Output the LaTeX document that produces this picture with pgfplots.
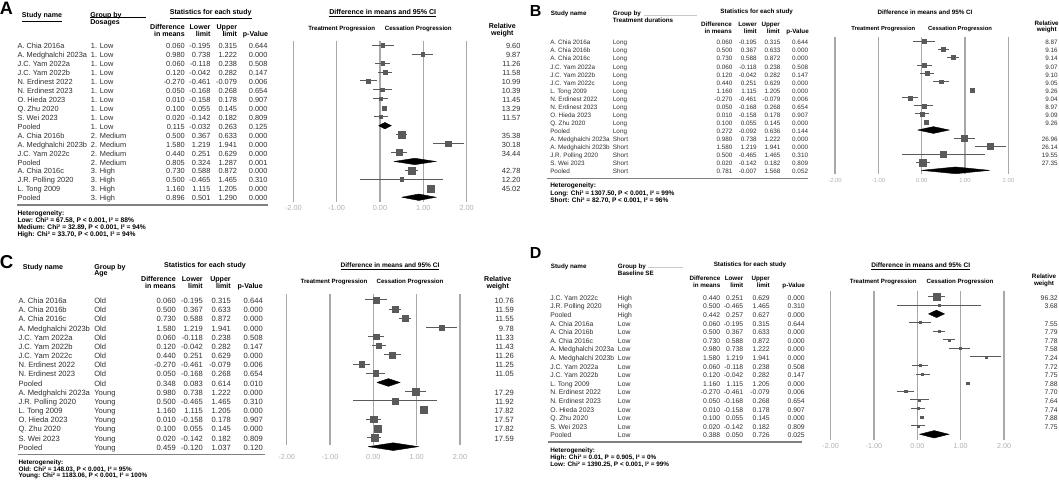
\documentclass[border=0pt]{standalone}
\usepackage{fontspec}
\setmainfont{Liberation Sans}
\usepackage{pgfplots}
\usepackage{pgfplotstable}
\pgfplotsset{compat=1.18}

\definecolor{gridgray}{HTML}{A8A8A8}
\definecolor{tickgray}{HTML}{B0B0B0}
\definecolor{markgray}{HTML}{5A5A5A}
\definecolor{txtgray}{HTML}{2E2E2E}
\definecolor{sepgray}{HTML}{808080}
\definecolor{lightline}{HTML}{C8C8C8}

\newcommand\fsz[1]{\fontsize{#1}{#1}\selectfont}
% one text column of a table: one node per row
\newcommand\tcol[6]{%
  \pgfplotstableforeachcolumnelement{#2}\of#1\as\cell{%
    \node[anchor=#4] at (#3,{#5+\pgfplotstablerow*#6}) {\cell};}}
% weight column: pooled rows (w=0) stay blank
\newcommand\wcol[4]{%
  \pgfplotstableforeachcolumnelement{w}\of#1\as\cell{%
    \ifdim\cell pt>0pt
      \node[anchor=mid east] at (#2,{#3+\pgfplotstablerow*#4}) {\cell};\fi}}

\pgfplotsset{
  fplot/.style={scale only axis, anchor=north west, width=130pt,
    xmin=-2, xmax=2, y dir=reverse,
    axis line style={draw=none}, major tick length=0pt, ytick=\empty,
    xtick={-2,-1,0,1,2}, xticklabels={-2.00,-1.00,0.00,1.00,2.00},
    xmajorgrids, grid style={draw=gridgray, line width=1pt},
    xticklabel style={text=tickgray, inner sep=0pt, anchor=north},
    clip=false},
  fstudy/.style={only marks, mark=square*, scatter,
    scatter/use mapped color={draw=markgray, fill=markgray},
    mark options={line width=0.2pt},
    visualization depends on={\thisrow{w}\as\wt},
    scatter/@pre marker code/.append style={/tikz/mark size={#1*sqrt(\wt)}},
    error bars/x dir=both, error bars/x explicit, error bars/error mark=none,
    error bars/error bar style={draw=markgray, line width=0.75pt}},
  fdia/.style={draw=black, fill=black, line width=0.3pt, mark=none},
}
% pooled rows have k=0: their x becomes unbounded and they are dropped
\pgfplotsset{/pgfplots/table/frow/.style={x expr=\thisrow{d}/\thisrow{k},
  y expr=\coordindex+1,
  x error plus expr=\thisrow{u}-\thisrow{d},
  x error minus expr=\thisrow{d}-\thisrow{l}}}

% A: dosages
\pgfplotstableread[col sep=comma]{
name,grp,d,l,u,p,w,k
A. Chia 2016a,1. Low,0.060,-0.195,0.315,0.644,9.60,1
A. Medghalchi 2023a,1. Low,0.980,0.738,1.222,0.000,9.87,1
J.C. Yam 2022a,1. Low,0.060,-0.118,0.238,0.508,11.26,1
J.C. Yam 2022b,1. Low,0.120,-0.042,0.282,0.147,11.58,1
N. Erdinest 2022,1. Low,-0.270,-0.461,-0.079,0.006,10.99,1
N. Erdinest 2023,1. Low,0.050,-0.168,0.268,0.654,10.39,1
O. Hieda 2023,1. Low,0.010,-0.158,0.178,0.907,11.45,1
Q. Zhu 2020,1. Low,0.100,0.055,0.145,0.000,13.29,1
S. Wei 2023,1. Low,0.020,-0.142,0.182,0.809,11.57,1
Pooled,1. Low,0.115,-0.032,0.263,0.125,0,0
A. Chia 2016b,2. Medium,0.500,0.367,0.633,0.000,35.38,1
A. Medghalchi 2023b,2. Medium,1.580,1.219,1.941,0.000,30.18,1
J.C. Yam 2022c,2. Medium,0.440,0.251,0.629,0.000,34.44,1
Pooled,2. Medium,0.805,0.324,1.287,0.001,0,0
A. Chia 2016c,3. High,0.730,0.588,0.872,0.000,42.78,1
J.R. Polling 2020,3. High,0.500,-0.465,1.465,0.310,12.20,1
L. Tong 2009,3. High,1.160,1.115,1.205,0.000,45.02,1
Pooled,3. High,0.896,0.501,1.290,0.000,0,0
}\tabA

% B: treatment durations
\pgfplotstableread[col sep=comma]{
name,grp,d,l,u,p,w,k
A. Chia 2016a,Long,0.060,-0.195,0.315,0.644,8.87,1
A. Chia 2016b,Long,0.500,0.367,0.633,0.000,9.16,1
A. Chia 2016c,Long,0.730,0.588,0.872,0.000,9.14,1
J.C. Yam 2022a,Long,0.060,-0.118,0.238,0.508,9.07,1
J.C. Yam 2022b,Long,0.120,-0.042,0.282,0.147,9.10,1
J.C. Yam 2022c,Long,0.440,0.251,0.629,0.000,9.05,1
L. Tong 2009,Long,1.160,1.115,1.205,0.000,9.26,1
N. Erdinest 2022,Long,-0.270,-0.461,-0.079,0.006,9.04,1
N. Erdinest 2023,Long,0.050,-0.168,0.268,0.654,8.97,1
O. Hieda 2023,Long,0.010,-0.158,0.178,0.907,9.09,1
Q. Zhu 2020,Long,0.100,0.055,0.145,0.000,9.26,1
Pooled,Long,0.272,-0.092,0.636,0.144,0,0
A. Medghalchi 2023a,Short,0.980,0.738,1.222,0.000,26.96,1
A. Medghalchi 2023b,Short,1.580,1.219,1.941,0.000,26.14,1
J.R. Polling 2020,Short,0.500,-0.465,1.465,0.310,19.55,1
S. Wei 2023,Short,0.020,-0.142,0.182,0.809,27.35,1
Pooled,Short,0.781,-0.007,1.568,0.052,0,0
}\tabB

% C: age
\pgfplotstableread[col sep=comma]{
name,grp,d,l,u,p,w,k
A. Chia 2016a,Old,0.060,-0.195,0.315,0.644,10.76,1
A. Chia 2016b,Old,0.500,0.367,0.633,0.000,11.59,1
A. Chia 2016c,Old,0.730,0.588,0.872,0.000,11.55,1
A. Medghalchi 2023b,Old,1.580,1.219,1.941,0.000,9.78,1
J.C. Yam 2022a,Old,0.060,-0.118,0.238,0.508,11.33,1
J.C. Yam 2022b,Old,0.120,-0.042,0.282,0.147,11.43,1
J.C. Yam 2022c,Old,0.440,0.251,0.629,0.000,11.26,1
N. Erdinest 2022,Old,-0.270,-0.461,-0.079,0.006,11.25,1
N. Erdinest 2023,Old,0.050,-0.168,0.268,0.654,11.05,1
Pooled,Old,0.348,0.083,0.614,0.010,0,0
A. Medghalchi 2023a,Young,0.980,0.738,1.222,0.000,17.29,1
J.R. Polling 2020,Young,0.500,-0.465,1.465,0.310,11.92,1
L. Tong 2009,Young,1.160,1.115,1.205,0.000,17.82,1
O. Hieda 2023,Young,0.010,-0.158,0.178,0.907,17.57,1
Q. Zhu 2020,Young,0.100,0.055,0.145,0.000,17.82,1
S. Wei 2023,Young,0.020,-0.142,0.182,0.809,17.59,1
Pooled,Young,0.459,-0.120,1.037,0.120,0,0
}\tabC

% D: baseline SE
\pgfplotstableread[col sep=comma]{
name,grp,d,l,u,p,w,k
J.C. Yam 2022c,High,0.440,0.251,0.629,0.000,96.32,1
J.R. Polling 2020,High,0.500,-0.465,1.465,0.310,3.68,1
Pooled,High,0.442,0.257,0.627,0.000,0,0
A. Chia 2016a,Low,0.060,-0.195,0.315,0.644,7.55,1
A. Chia 2016b,Low,0.500,0.367,0.633,0.000,7.79,1
A. Chia 2016c,Low,0.730,0.588,0.872,0.000,7.78,1
A. Medghalchi 2023a,Low,0.980,0.738,1.222,0.000,7.58,1
A. Medghalchi 2023b,Low,1.580,1.219,1.941,0.000,7.24,1
J.C. Yam 2022a,Low,0.060,-0.118,0.238,0.508,7.72,1
J.C. Yam 2022b,Low,0.120,-0.042,0.282,0.147,7.75,1
L. Tong 2009,Low,1.160,1.115,1.205,0.000,7.88,1
N. Erdinest 2022,Low,-0.270,-0.461,-0.079,0.006,7.70,1
N. Erdinest 2023,Low,0.050,-0.168,0.268,0.654,7.64,1
O. Hieda 2023,Low,0.010,-0.158,0.178,0.907,7.74,1
Q. Zhu 2020,Low,0.100,0.055,0.145,0.000,7.88,1
S. Wei 2023,Low,0.020,-0.142,0.182,0.809,7.75,1
Pooled,Low,0.388,0.050,0.726,0.025,0,0
}\tabD

\begin{document}
\begin{tikzpicture}
\path[use as bounding box] (0,0) rectangle (794.25pt,-360.75pt);

% all text in pixel coordinates of the 1059x481 picture
\begin{scope}[x=0.75pt,y=-0.75pt,every node/.style={inner sep=0pt}]

% ---------- A
\node[anchor=base west,font=\bfseries\fsz{13.5}] at (-0.5,15) {A};
\begin{scope}[font=\bfseries\fsz{5.3}]
\node[anchor=mid west] at (21.7,14) {\underline{Study name}};
\node[anchor=mid west] at (90,14) {Group by};
\node[anchor=mid west] at (90,20.7) {Dosages};
\node at (210.7,14) {\underline{Statistics for each study}};
\node[anchor=mid east] at (185,25.7) {Difference};
\node[anchor=mid east] at (185,33.3) {in means};
\node[anchor=mid east] at (210.7,25.7) {Lower};
\node[anchor=mid east] at (210.7,33.3) {limit};
\node[anchor=mid east] at (237.3,25.7) {Upper};
\node[anchor=mid east] at (237.3,33.3) {limit};
\node[anchor=mid east] at (268.3,33.3) {p-Value};
\node at (382.7,13.3) {\underline{Difference in means and 95\% CI}};
\node at (502.3,26) {Relative};
\node at (502.3,33.3) {weight};
\node[font=\bfseries\fsz{4.6}] at (341.7,29.3) {Treatment Progression};
\node[font=\bfseries\fsz{4.6}] at (418.3,29.3) {Cessation Progression};
\end{scope}
\draw[line width=0.5pt] (90,16.9) -- (145.7,16.9);
\begin{scope}[font=\fsz{5.55},text=txtgray]
\tcol\tabA{name}{17.3}{mid west}{45.3}{8.94}
\tcol\tabA{grp}{90.7}{mid west}{45.3}{8.94}
\tcol\tabA{d}{185}{mid east}{45.3}{8.94}
\tcol\tabA{l}{210.7}{mid east}{45.3}{8.94}
\tcol\tabA{u}{237.3}{mid east}{45.3}{8.94}
\tcol\tabA{p}{267.7}{mid east}{45.3}{8.94}
\wcol\tabA{520.7}{45.3}{8.94}
\end{scope}
\draw[draw=sepgray,line width=0.8pt] (17,205) -- (268,205);
\begin{scope}[font=\bfseries\fsz{5.0}]
\node[anchor=mid west] at (17.3,212.3) {Heterogeneity:};
\node[anchor=mid west] at (17.3,219.3) {Low: Chi² = 67.58, P < 0.001, I² = 88\%};
\node[anchor=mid west] at (17.3,226.3) {Medium: Chi² = 32.89, P < 0.001, I² = 94\%};
\node[anchor=mid west] at (17.3,233.3) {High: Chi² = 33.70, P < 0.001, I² = 94\%};
\end{scope}

% ---------- B
\node[anchor=base west,font=\bfseries\fsz{12}] at (529.5,16.7) {B};
\begin{scope}[font=\bfseries\fsz{4.7}]
\node[anchor=mid west] at (550.7,12.3) {Study name};
\node[anchor=mid west] at (612.7,12.3) {Group by};
\node[anchor=mid west] at (612.7,19) {Treatment durations};
\node at (756.7,12.3) {Statistics for each study};
\node[anchor=mid east] at (732,23.3) {Difference};
\node[anchor=mid east] at (732,30) {in means};
\node[anchor=mid east] at (757,23.3) {Lower};
\node[anchor=mid east] at (757,30) {limit};
\node[anchor=mid east] at (780,23.3) {Upper};
\node[anchor=mid east] at (780,30) {limit};
\node[anchor=mid east] at (809,30) {p-Value};
\node at (925,12.3) {Difference in means and 95\% CI};
\node at (1046.7,23.3) {Relative};
\node at (1046.7,30) {weight};
\node[font=\bfseries\fsz{4.4}] at (883.3,29.3) {Treatment Progression};
\node[font=\bfseries\fsz{4.4}] at (960,29.3) {Cessation Progression};
\end{scope}
\draw[draw=lightline,line width=0.5pt] (644,15.3) -- (696.7,15.3);
\begin{scope}[font=\fsz{4.75},text=txtgray]
\tcol\tabB{name}{550}{mid west}{41.3}{8.06}
\tcol\tabB{grp}{612.7}{mid west}{41.3}{8.06}
\tcol\tabB{d}{732.7}{mid east}{41.3}{8.06}
\tcol\tabB{l}{757}{mid east}{41.3}{8.06}
\tcol\tabB{u}{780.7}{mid east}{41.3}{8.06}
\tcol\tabB{p}{808.3}{mid east}{41.3}{8.06}
\wcol\tabB{1058}{41.3}{8.06}
\end{scope}
\draw[draw=sepgray,line width=0.8pt] (546.7,178.3) -- (808,178.3);
\begin{scope}[font=\bfseries\fsz{4.9}]
\node[anchor=mid west] at (550,184) {Heterogeneity:};
\node[anchor=mid west] at (550,191.7) {Long: Chi² = 1307.50, P < 0.001, I² = 99\%};
\node[anchor=mid west] at (550,199) {Short: Chi² = 82.70, P < 0.001, I² = 96\%};
\end{scope}

% ---------- C
\node[anchor=base west,font=\bfseries\fsz{14}] at (-0.5,268) {C};
\begin{scope}[font=\bfseries\fsz{5.3}]
\node[anchor=mid west] at (22.7,266) {Study name};
\node[anchor=mid west] at (94,266) {Group by};
\node[anchor=mid west] at (94,272.3) {Age};
\node at (205,266) {Statistics for each study};
\node[anchor=mid east] at (176,277.5) {Difference};
\node[anchor=mid east] at (176,285.3) {in means};
\node[anchor=mid east] at (203,277.5) {Lower};
\node[anchor=mid east] at (203,285.3) {limit};
\node[anchor=mid east] at (231,277.5) {Upper};
\node[anchor=mid east] at (231,285.3) {limit};
\node[anchor=mid east] at (263,285.3) {p-Value};
\node[font=\bfseries\fsz{4.9}] at (390,266) {\underline{Difference in means and 95\% CI}};
\node at (497.7,279) {Relative};
\node at (497.7,286.7) {weight};
\node[font=\bfseries\fsz{4.6}] at (334,282.3) {Treatment Progression};
\node[font=\bfseries\fsz{4.6}] at (410,282.3) {Cessation Progression};
\end{scope}
\begin{scope}[font=\fsz{5.7},text=txtgray]
\tcol\tabC{name}{18.3}{mid west}{300}{9.17}
\tcol\tabC{grp}{94}{mid west}{300}{9.17}
\tcol\tabC{d}{176}{mid east}{300}{9.17}
\tcol\tabC{l}{203}{mid east}{300}{9.17}
\tcol\tabC{u}{231}{mid east}{300}{9.17}
\tcol\tabC{p}{263}{mid east}{300}{9.17}
\wcol\tabC{514}{300}{9.17}
\end{scope}
\draw[draw=sepgray,line width=0.8pt] (18,454.3) -- (265,454.3);
\begin{scope}[font=\bfseries\fsz{4.8}]
\node[anchor=mid west] at (18.3,461) {Heterogeneity:};
\node[anchor=mid west] at (18.3,467.7) {Old: Chi² = 148.03, P < 0.001, I² = 95\%};
\node[anchor=mid west] at (18.3,474.3) {Young: Chi² = 1183.06, P < 0.001, I² = 100\%};
\end{scope}

% ---------- D
\node[anchor=base west,font=\bfseries\fsz{12}] at (529.5,258.3) {D};
\begin{scope}[font=\bfseries\fsz{4.7}]
\node[anchor=mid west] at (550.7,265) {Study name};
\node[anchor=mid west] at (617.7,265) {Group by};
\node[anchor=mid west] at (617.7,271.7) {Baseline SE};
\node at (750,265) {Statistics for each study};
\node[anchor=mid east] at (720.5,276.7) {Difference};
\node[anchor=mid east] at (720.5,284) {in means};
\node[anchor=mid east] at (743.5,276.7) {Lower};
\node[anchor=mid east] at (743.5,284) {limit};
\node[anchor=mid east] at (770,276.7) {Upper};
\node[anchor=mid east] at (770,284) {limit};
\node[anchor=mid east] at (805,284) {p-Value};
\node[font=\bfseries\fsz{4.9}] at (920.7,266) {\underline{Difference in means and 95\% CI}};
\node at (1044,276.7) {Relative};
\node at (1044,284) {weight};
\node[font=\bfseries\fsz{4.6}] at (883.3,282.3) {Treatment Progression};
\node[font=\bfseries\fsz{4.6}] at (960,282.3) {Cessation Progression};
\end{scope}
\draw[draw=lightline,line width=0.5pt] (648,267) -- (683,267);
\begin{scope}[font=\fsz{5.1},text=txtgray]
\tcol\tabD{name}{550}{mid west}{296.7}{8.6}
\tcol\tabD{grp}{617.7}{mid west}{296.7}{8.6}
\tcol\tabD{d}{720.5}{mid east}{296.7}{8.6}
\tcol\tabD{l}{743.5}{mid east}{296.7}{8.6}
\tcol\tabD{u}{770}{mid east}{296.7}{8.6}
\tcol\tabD{p}{805}{mid east}{296.7}{8.6}
\wcol\tabD{1058}{296.7}{8.6}
\end{scope}
\draw[draw=sepgray,line width=0.8pt] (548,442) -- (802,442);
\begin{scope}[font=\bfseries\fsz{4.8}]
\node[anchor=mid west] at (550,449) {Heterogeneity:};
\node[anchor=mid west] at (550,455.7) {High: Chi² = 0.01, P = 0.905, I² = 0\%};
\node[anchor=mid west] at (550,462.7) {Low: Chi² = 1390.25, P < 0.001, I² = 99\%};
\end{scope}
\end{scope}

% ---------- forest plots
\begin{axis}[fplot, at={(219.98pt,-30.53pt)}, height=120.75pt,
  ymin=0.5, ymax=18.5, xticklabel style={font=\fsz{5.5}, yshift=-2.9pt}]
\addplot[fstudy=0.39] table[frow] {\tabA};
\addplot[fdia] coordinates {(-0.032,10) (0.115,9.64) (0.263,10) (0.115,10.36) (-0.032,10)};
\addplot[fdia] coordinates {(0.324,14) (0.805,13.64) (1.287,14) (0.805,14.36) (0.324,14)};
\addplot[fdia] coordinates {(0.501,18) (0.896,17.64) (1.290,18) (0.896,18.36) (0.501,18)};
\end{axis}

\begin{axis}[fplot, at={(626.25pt,-27.98pt)}, height=102.8pt,
  ymin=0.5, ymax=17.5, xticklabel style={font=\fsz{4.4}, yshift=-2.5pt}]
\addplot[fstudy=0.49] table[frow] {\tabB};
\addplot[fdia] coordinates {(-0.092,12) (0.272,11.58) (0.636,12) (0.272,12.42) (-0.092,12)};
\addplot[fdia] coordinates {(-0.007,17) (0.781,16.58) (1.568,17) (0.781,17.42) (-0.007,17)};
\end{axis}

\begin{axis}[fplot, at={(215.0pt,-220.5pt)}, height=113.25pt,
  ymin=0.35, ymax=16.82, xticklabel style={font=\fsz{5.5}, yshift=-6.8pt}]
\addplot[fstudy=0.62] table[frow] {\tabC};
\addplot[fdia] coordinates {(0.083,10) (0.348,9.58) (0.614,10) (0.348,10.42) (0.083,10)};
\addplot[fdia] coordinates {(-0.120,17) (0.459,16.58) (1.037,17) (0.459,17.42) (-0.120,17)};
\end{axis}

\begin{axis}[fplot, at={(623.0pt,-218.0pt)}, height=111.9pt,
  ymin=0.3, ymax=17.65, xticklabel style={font=\fsz{5.4}, yshift=-2.3pt}]
\addplot[fstudy=0.28] table[frow] {\tabD};
\addplot[fdia] coordinates {(0.257,3) (0.442,2.57) (0.627,3) (0.442,3.43) (0.257,3)};
\addplot[fdia] coordinates {(0.050,17) (0.388,16.57) (0.726,17) (0.388,17.43) (0.050,17)};
\end{axis}
\end{tikzpicture}
\end{document}
